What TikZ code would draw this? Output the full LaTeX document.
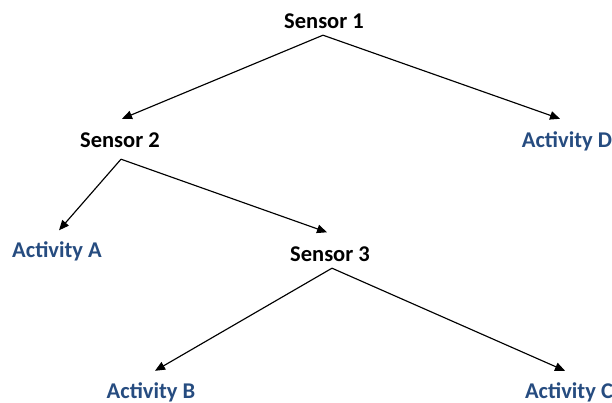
\documentclass[tikz,border=0pt]{standalone}
\usepackage{fontspec}
\setmainfont{Carlito}
\usetikzlibrary{arrows.meta}
\definecolor{actblue}{RGB}{38,76,128}
\begin{document}
\begin{tikzpicture}[x=1pt,y=1pt,
  label/.style={font=\bfseries\fontsize{22.5}{26}\selectfont, anchor=base,
    inner sep=0pt, text height=14.5pt, text depth=0pt},
  sensor/.style={label, text=black},
  activity/.style={label, text=actblue},
  link/.style={line width=1.15pt, draw=black,
    -{Triangle[length=10pt,width=8.5pt]}}]
\useasboundingbox (0,0) rectangle (612,403);
\fill[white] (0,0) rectangle (612,403);

% tree nodes
\node[sensor]   (s1) at (324,374) {Sensor 1};
\node[sensor]   (s2) at (120,255) {Sensor 2};
\node[activity] (ad) at (567,255) {Activity D};
\node[activity] (aa) at (57,145)  {Activity A};
\node[sensor]   (s3) at (330,141) {Sensor 3};
\node[activity] (ab) at (151,4)   {Activity B};
\node[activity] (ac) at (569,4)   {Activity C};

% branches
\draw[link] ([xshift=-1pt,yshift=-6pt]s1.south) -- ([xshift=2pt,yshift=14.5pt]s2.north);
\draw[link] ([xshift=-1pt,yshift=-6pt]s1.south) -- ([xshift=-7pt,yshift=14.5pt]ad.north);
\draw[link] ([xshift=1pt,yshift=-11pt]s2.south) -- ([xshift=2pt,yshift=13pt]aa.north);
\draw[link] ([xshift=1pt,yshift=-11pt]s2.south) -- ([xshift=-3pt,yshift=15pt]s3.north);
\draw[link] ([xshift=2pt,yshift=-6pt]s3.south) -- ([xshift=4pt,yshift=13.5pt]ab.north);
\draw[link] ([xshift=2pt,yshift=-6pt]s3.south) -- ([xshift=-4pt,yshift=13.5pt]ac.north);
\end{tikzpicture}
\end{document}
